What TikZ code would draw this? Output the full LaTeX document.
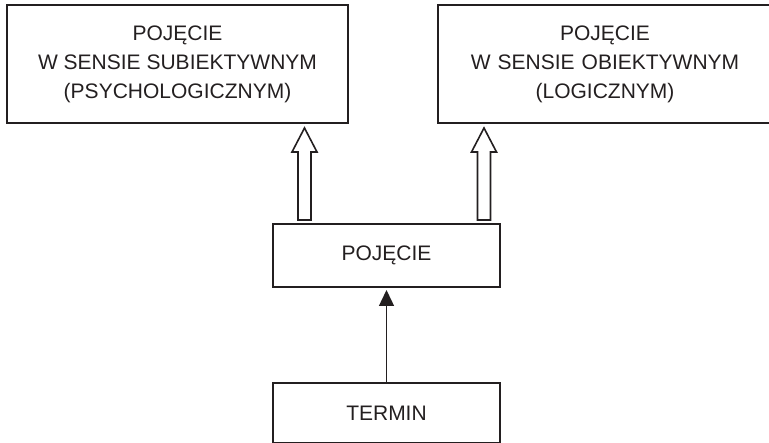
\documentclass[tikz,border=0pt]{standalone}
\usepackage{fontspec}
\setmainfont{Liberation Sans}
\usetikzlibrary{arrows.meta,calc}
\definecolor{ink}{HTML}{231F20}
\begin{document}
\begin{tikzpicture}[x=1pt,y=-1pt,
  box/.style={draw=ink,line width=2pt,rectangle,inner sep=0pt,align=center,
    font=\fontsize{21}{29}\selectfont,text=ink},
  hollow/.style={draw=ink,line width=1.6pt,fill=white,line join=miter},
  thin/.style={draw=ink,line width=1.4pt,-{Triangle[length=16pt,width=15pt]},shorten >=2pt}]
\useasboundingbox (0,0) rectangle (769,443);
\node[box,minimum width=341pt,minimum height=118pt] (lt) at (177.5,64) {POJĘCIE\\W SENSIE SUBIEKTYWNYM\\(PSYCHOLOGICZNYM)};
\node[box,minimum width=334pt,minimum height=118pt,text width=320pt] (rt) at (605,64) {POJĘCIE\\W SENSIE OBIEKTYWNYM\\(LOGICZNYM)};
\node[box,minimum width=227pt,minimum height=63pt] (mid) at (386.5,255.5) {POJĘCIE};
\node[box,minimum width=227pt,minimum height=60pt] (term) at (386.5,413) {TERMIN};
\draw[thin] (term) -- (mid);
\draw[hollow] let \p1=(mid.north), \p2=(lt.south), \n1={\x1-82pt} in
  (\n1-6.5pt,\y1+3pt) -- (\n1-6.5pt,\y2-28pt) -- (\n1-12.5pt,\y2-28pt) -- (\n1,\y2-4pt)
  -- (\n1+12.5pt,\y2-28pt) -- (\n1+6.5pt,\y2-28pt) -- (\n1+6.5pt,\y1+3pt) -- cycle;
\draw[hollow] let \p1=(mid.north), \p2=(rt.south), \n1={\x1+97.5pt} in
  (\n1-6.5pt,\y1+3pt) -- (\n1-6.5pt,\y2-28pt) -- (\n1-12.5pt,\y2-28pt) -- (\n1,\y2-4pt)
  -- (\n1+12.5pt,\y2-28pt) -- (\n1+6.5pt,\y2-28pt) -- (\n1+6.5pt,\y1+3pt) -- cycle;
\end{tikzpicture}
\end{document}
